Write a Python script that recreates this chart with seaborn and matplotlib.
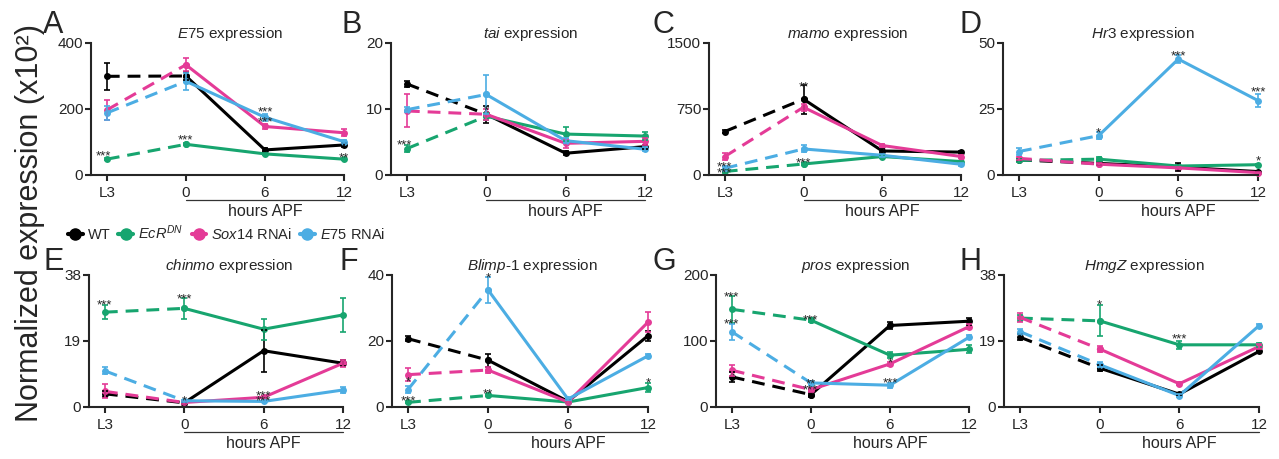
import numpy as np
import pandas as pd
import matplotlib
matplotlib.use("Agg")
import matplotlib.pyplot as plt
from matplotlib.lines import Line2D
import seaborn as sns

# --- data ---
groups = ["WT", "EcR", "Sox14", "E75"]
time_labels = ["L3", "0", "6", "12"]
colors = {"WT": "#000000", "EcR": "#17a56f", "Sox14": "#e43b97", "E75": "#4cade3"}

genes = ["E75", "tai", "mamo", "Hr3", "chinmo", "Blimp-1", "pros", "HmgZ"]
letters = ["A", "B", "C", "D", "E", "F", "G", "H"]
y_max = [400, 20, 1500, 50, 38, 40, 200, 38]

# means: L3, 0, 6, 12
e75_mean = {"WT": [299, 300, 76, 91], "EcR": [48, 93, 64, 48],
            "Sox14": [197, 334, 147, 128], "E75": [188, 284, 175, 101]}
e75_err = {"WT": [40, 12, 6, 5], "EcR": [3, 3, 3, 4],
           "Sox14": [30, 20, 8, 10], "E75": [20, 25, 10, 5]}

tai_mean = {"WT": [13.8, 9.2, 3.3, 4.3], "EcR": [4.0, 8.9, 6.2, 5.9],
            "Sox14": [9.7, 9.2, 4.8, 5.1], "E75": [9.9, 12.2, 5.2, 3.9]}
tai_err = {"WT": [0.5, 1.3, 0.3, 0.3], "EcR": [0.5, 0.5, 1.0, 0.6],
           "Sox14": [2.5, 0.8, 0.7, 0.5], "E75": [0.4, 3.0, 0.4, 0.3]}

mamo_mean = {"WT": [494, 862, 273, 260], "EcR": [40, 125, 210, 153],
             "Sox14": [210, 770, 335, 210], "E75": [76, 296, 224, 122]}
mamo_err = {"WT": [15, 165, 25, 15], "EcR": [15, 15, 15, 10],
            "Sox14": [40, 40, 20, 20], "E75": [30, 40, 15, 15]}

hr3_mean = {"WT": [5.7, 4.4, 3.0, 1.3], "EcR": [5.5, 6.0, 3.4, 3.9],
            "Sox14": [6.3, 4.1, 2.7, 0.9], "E75": [8.9, 14.9, 43.9, 28.2]}
hr3_err = {"WT": [0.5, 0.5, 1.5, 0.3], "EcR": [0.5, 0.8, 0.5, 0.4],
           "Sox14": [0.5, 0.5, 0.4, 0.3], "E75": [1.5, 1.2, 1.5, 2.5]}

chinmo_mean = {"WT": [3.8, 1.2, 16.2, 12.6], "EcR": [27.3, 28.4, 22.4, 26.5],
               "Sox14": [4.5, 1.3, 2.8, 12.6], "E75": [10.4, 1.8, 1.6, 4.9]}
chinmo_err = {"WT": [0.8, 0.3, 6.0, 0.8], "EcR": [2.0, 3.0, 3.0, 5.0],
              "Sox14": [2.0, 0.3, 0.5, 1.0], "E75": [1.0, 0.3, 0.3, 1.0]}

blimp_mean = {"WT": [20.7, 14.2, 1.7, 21.6], "EcR": [1.4, 3.5, 1.5, 5.9],
              "Sox14": [9.8, 11.2, 1.5, 25.7], "E75": [5.3, 35.5, 2.4, 15.5]}
blimp_err = {"WT": [0.7, 2.0, 0.3, 1.5], "EcR": [0.3, 0.3, 0.3, 1.5],
             "Sox14": [2.0, 1.0, 0.3, 3.0], "E75": [1.0, 4.0, 0.3, 0.5]}

pros_mean = {"WT": [45.6, 18.7, 123.5, 130], "EcR": [148, 131.6, 78.5, 87.4],
             "Sox14": [55.7, 26.3, 65.3, 121.7], "E75": [114, 36.5, 33, 105.6]}
pros_err = {"WT": [8, 3, 5, 5], "EcR": [20, 3, 5, 6],
            "Sox14": [8, 3, 3, 4], "E75": [12, 3, 4, 3]}

hmgz_mean = {"WT": [20.1, 11.2, 3.7, 16.0], "EcR": [25.6, 24.8, 17.9, 17.9],
             "Sox14": [25.8, 16.7, 6.7, 17.4], "E75": [21.7, 12.2, 3.3, 23.4]}
hmgz_err = {"WT": [0.8, 0.8, 0.3, 0.5], "EcR": [0.8, 4.5, 1.2, 0.5],
            "Sox14": [1.2, 1.0, 0.5, 0.7], "E75": [0.8, 0.8, 0.3, 0.4]}

# significance stars: (group, time index, text, dx px, dy px above the point)
e75_stars = [("EcR", 0, "***", -3, 8), ("EcR", 1, "***", 0, 9), ("E75", 2, "***", 0, 10),
             ("Sox14", 2, "***", 0, 8.5), ("EcR", 3, "**", 0, 6)]
tai_stars = [("EcR", 0, "***", -2, 8), ("WT", 1, "*", 0, 8)]
mamo_stars = [("E75", 0, "***", 0, 6), ("EcR", 0, "***", 0, 2.5), ("WT", 1, "**", 0, 17),
              ("EcR", 1, "***", 0, 5)]
hr3_stars = [("E75", 1, "*", 0, 7), ("E75", 2, "***", 0, 8), ("E75", 3, "***", 0, 13.5),
             ("EcR", 3, "*", 0, 7.7)]
chinmo_stars = [("EcR", 0, "***", 0, 11.5), ("EcR", 1, "***", 0, 14), ("E75", 1, "*", 0, 4),
                ("Sox14", 2, "***", 0, 5.5), ("E75", 2, "***", 0, 4.7)]
blimp_stars = [("EcR", 0, "***", 0, 6), ("E75", 0, "*", 0, 11.5), ("E75", 1, "*", 0, 16.5),
               ("EcR", 1, "**", 0, 5.5), ("EcR", 3, "*", 0, 9)]
pros_stars = [("EcR", 0, "***", 0, 17), ("E75", 0, "***", 0, 12), ("EcR", 1, "***", 0, 5),
              ("E75", 1, "**", 0, 3.6), ("Sox14", 1, "***", 0, 4), ("EcR", 2, "*", 0, -3),
              ("E75", 2, "***", 0, 7)]
hmgz_stars = [("EcR", 1, "*", 0, 20), ("EcR", 2, "***", 0, 10.5)]

panel_means = [e75_mean, tai_mean, mamo_mean, hr3_mean, chinmo_mean, blimp_mean, pros_mean, hmgz_mean]
panel_errs = [e75_err, tai_err, mamo_err, hr3_err, chinmo_err, blimp_err, pros_err, hmgz_err]
panel_stars = [e75_stars, tai_stars, mamo_stars, hr3_stars, chinmo_stars, blimp_stars, pros_stars, hmgz_stars]

# --- style ---
sns.set_style("ticks")
plt.rcParams["font.family"] = ["Liberation Sans", "DejaVu Sans"]
plt.rcParams["mathtext.fontset"] = "custom"
plt.rcParams["mathtext.rm"] = "Liberation Sans"
plt.rcParams["mathtext.it"] = "Liberation Sans:italic"
plt.rcParams["axes.linewidth"] = 1.5

W, H = 1279, 459
fig = plt.figure(figsize=(W / 100, H / 100), dpi=100)

# axes boxes in pixels: left, right, top, bottom
boxes = [(91, 344, 43, 175), (391, 645, 43, 175), (709, 961, 43, 175), (1003, 1258, 43, 175),
         (89, 343, 275, 407), (392, 648, 275, 407), (716, 969, 275, 407), (1004, 1259, 275, 407)]
letter_x = [43, 342, 653, 960, 43, 340, 653, 960]
STAR_FS = 9.5


def draw_panel(ax, means, errs, ymax, gene, stars):
    rows = []
    for g in groups:
        for i in range(len(time_labels)):
            rows.append({"group": g, "pos": i, "value": means[g][i], "err": errs[g][i]})
    df = pd.DataFrame(rows)

    sns.lineplot(data=df[df["pos"] <= 1], x="pos", y="value", hue="group", hue_order=groups,
                 palette=colors, linewidth=2.2, linestyle=(0, (4.2, 2.6)), marker="o",
                 markersize=5, markeredgewidth=0, errorbar=None, legend=False, ax=ax,
                 clip_on=False)
    sns.lineplot(data=df[df["pos"] >= 1], x="pos", y="value", hue="group", hue_order=groups,
                 palette=colors, linewidth=2.2, marker="o", markersize=5, markeredgewidth=0,
                 errorbar=None, legend=False, ax=ax, clip_on=False)
    for g in groups:
        d = df[df["group"] == g]
        ax.errorbar(d["pos"], d["value"], yerr=d["err"], fmt="none", ecolor=colors[g],
                    elinewidth=1.2, capsize=2, capthick=1.2, clip_on=False)

    for g, i, txt, dx, dy in stars:
        ax.annotate(txt, (i, means[g][i]), xytext=(dx * 0.72, dy * 0.72 - 0.6 * STAR_FS),
                    textcoords="offset points", ha="center", va="baseline",
                    fontsize=STAR_FS, annotation_clip=False)

    ax.set_xlim(-0.2, 3)
    ax.set_ylim(0, ymax)
    ax.set_xticks(range(len(time_labels)))
    ax.set_xticklabels(time_labels)
    ax.set_yticks([0, ymax / 2, ymax])
    ax.set_yticklabels([f"{v:g}" for v in [0, ymax / 2, ymax]])
    ax.tick_params(axis="x", length=4, width=1.5, pad=4, labelsize=11)
    ax.tick_params(axis="y", length=4, width=1.5, pad=1.5, labelsize=11)
    ax.set_xlabel("")
    ax.set_ylabel("")
    sns.despine(ax=ax)

    if "-" in gene:
        a, b = gene.split("-")
        title = rf"$\mathit{{{a}}}$-$\mathit{{{b}}}$ expression"
    else:
        title = rf"$\mathit{{{gene}}}$ expression"
    ax.text(0.55, 1 + 9 / 132, title, transform=ax.transAxes, ha="center", va="center",
            fontsize=11)

    # "hours APF" bracket under 0..12
    xt = ax.get_xaxis_transform()
    ax.plot([1, 3], [-25 / 132, -25 / 132], color="#333333", lw=0.9, transform=xt, clip_on=False)
    ax.text(2, -36 / 132, "hours APF", transform=xt, ha="center", va="center", fontsize=11.5)


for k in range(8):
    l, r, t, b = boxes[k]
    ax = fig.add_axes([l / W, 1 - b / H, (r - l) / W, (b - t) / H])
    draw_panel(ax, panel_means[k], panel_errs[k], y_max[k], genes[k], panel_stars[k])
    base = 33 if k < 4 else 270
    fig.text(letter_x[k] / W, 1 - base / H, letters[k], fontsize=22, ha="left", va="baseline")

fig.text(30 / W, 0.515, "Normalized expression (x10²)", rotation=90, fontsize=22,
         ha="center", va="center")

labels = ["WT", r"$\mathit{EcR}^{\mathit{DN}}$", r"$\mathit{Sox14}$ RNAi", r"$\mathit{E75}$ RNAi"]
handles = [Line2D([0], [0], color=colors[g], lw=3, marker="o", markersize=8) for g in groups]
fig.legend(handles, labels, loc="center left", bbox_to_anchor=(68 / W, 1 - 233 / H), ncol=4,
           frameon=False, handlelength=1.0, handletextpad=0.35, columnspacing=0.55,
           fontsize=10.5, borderaxespad=0, borderpad=0)

fig.savefig("out.png", dpi=100)
